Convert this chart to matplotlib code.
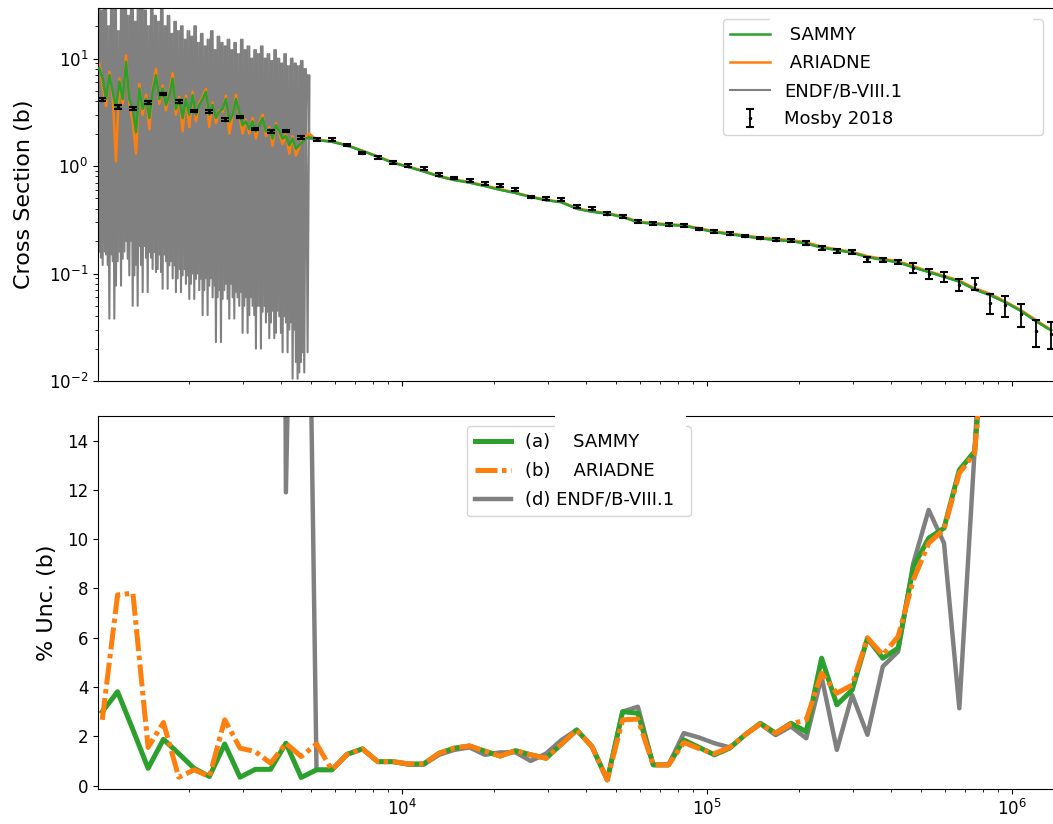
import numpy as np
import matplotlib
matplotlib.use("Agg")
import matplotlib.pyplot as plt
from matplotlib.patches import Rectangle

# ---------------- data ----------------
# energies (eV) of the resolved-resonance curve points
E_RES = [1015, 1041, 1068, 1095, 1123, 1151, 1181, 1211, 1242, 1273, 1306, 1339, 1373, 1408,
         1444, 1481, 1518, 1557, 1597, 1637, 1679, 1722, 1766, 1810, 1857, 1904, 1952, 2002,
         2053, 2105, 2159, 2214, 2270, 2328, 2388, 2448, 2511, 2575, 2640, 2708, 2777, 2847,
         2920, 2994, 3070, 3149, 3229, 3311, 3395, 3482, 3571, 3662, 3755, 3851, 3949, 4049,
         4152, 4258, 4367, 4478, 4592, 4709, 4829, 4952]
# energy bins (eV) of Mosby 2018 data / uncertainty comparison
E_BIN = [1038, 1165, 1308, 1467, 1647, 1849, 2076, 2331, 2616, 2936, 3296, 3698, 4152, 4660,
         5231, 5873, 6593, 7401, 8305, 9321, 10462, 11745, 13183, 14795, 16608, 18645, 20930,
         23495, 26365, 29597, 33224, 37297, 41869, 46980, 52740, 59206, 66464, 74612, 83720,
         93972, 105490, 118420, 132940, 149170, 167450, 187980, 211030, 236900, 265820, 298410,
         334970, 376040, 422150, 473700, 531780, 596970, 670150, 752310, 844140, 947620,
         1063700, 1194000, 1340400]

mosby_xs = [4.14, 3.52, 3.44, 3.91, 4.67, 3.96, 3.25, 3.20, 2.70, 2.86,
            2.21, 2.10, 2.12, 1.85, 1.77, 1.75, 1.57, 1.32, 1.20, 1.08,
            1.01, 0.944, 0.83, 0.773, 0.734, 0.684, 0.66, 0.60, 0.514, 0.496,
            0.485, 0.421, 0.40, 0.36, 0.34, 0.305, 0.294, 0.284, 0.28, 0.26,
            0.248, 0.234, 0.223, 0.214, 0.207, 0.203, 0.192, 0.173, 0.161, 0.158,
            0.135, 0.134, 0.128, 0.113, 0.099, 0.094, 0.0785, 0.080, 0.0533, 0.051,
            0.042, 0.029, 0.0275]
mosby_unc_pct = [3, 4, 3, 3, 3, 3, 3, 3, 3, 3,
                 3, 3, 3, 3, 3, 3, 3, 3, 3, 3,
                 3, 3, 3, 3, 3, 3, 4, 3, 3, 3,
                 3, 3, 3, 3, 3, 3, 3, 3, 3, 3,
                 3, 3, 3, 3, 3, 3, 4, 5, 4, 4,
                 6, 5, 5, 10, 11, 11, 13, 13, 22, 22,
                 25, 28, 28]

sammy_xs_res = [8.1, 6.5, 4.2, 7.0, 4.9, 3.4, 6.1, 4.2, 9.3, 4.2,
                3.4, 2.07, 5.25, 3.4, 4.2, 2.8, 4.9, 7.0, 4.2, 5.25,
                3.7, 4.55, 6.5, 3.4, 4.2, 2.8, 4.2, 3.0, 4.55, 3.0,
                3.7, 4.2, 4.9, 3.0, 3.7, 2.8, 3.2, 3.4, 4.2, 2.6,
                3.0, 4.2, 3.2, 2.4, 2.6, 2.2, 2.6, 2.1, 2.4, 2.8,
                2.1, 2.2, 1.8, 2.4, 2.1, 1.8, 1.9, 1.56, 1.8, 1.45,
                1.56, 1.67, 1.8, 1.86]
ariadne_xs_res = [9.0, 5.5, 3.6, 7.5, 4.4, 1.1, 6.5, 3.8, 10.7, 3.8,
                  2.6, 1.3, 5.8, 3.0, 4.6, 2.2, 5.2, 8.0, 3.8, 5.6,
                  3.3, 4.8, 7.3, 3.0, 4.4, 2.1, 4.5, 2.3, 4.9, 2.6,
                  3.9, 4.4, 5.2, 2.3, 3.9, 2.5, 3.3, 3.2, 4.5, 2.0,
                  2.9, 4.6, 3.0, 2.0, 2.7, 2.0, 2.8, 1.8, 2.5, 3.0,
                  1.9, 2.3, 1.55, 2.5, 2.0, 1.6, 2.0, 1.3, 1.9, 1.25,
                  1.5, 1.75, 1.9, 2.0]
endf_xs_hi = [35, 28, 40, 20, 35, 30, 18, 40, 35, 25,
              40, 22, 30, 35, 28, 20, 30, 25, 22, 30,
              20, 25, 17, 22, 18, 20, 15, 18, 16, 20,
              14, 17, 13, 15, 18, 12, 16, 14, 13, 15,
              12, 14, 11, 15, 12, 13, 10, 12, 11, 13,
              10, 11, 9.5, 12, 10, 9, 11, 8.5, 10, 9,
              8.5, 9.5, 8, 7]
endf_xs_lo = [0.14, 0.16, 0.12, 0.15, 0.038, 0.13, 0.077, 0.16, 0.137, 0.2,
              0.096, 0.05, 0.12, 0.18, 0.067, 0.14, 0.158, 0.11, 0.103, 0.15,
              0.072, 0.13, 0.119, 0.09, 0.067, 0.11, 0.096, 0.08, 0.058, 0.1,
              0.089, 0.07, 0.041, 0.09, 0.077, 0.06, 0.023, 0.07, 0.058, 0.08,
              0.038, 0.06, 0.067, 0.05, 0.028, 0.06, 0.041, 0.05, 0.020, 0.05,
              0.044, 0.035, 0.025, 0.045, 0.028, 0.04, 0.0185, 0.035, 0.030, 0.0105,
              0.015, 0.012, 0.0185, 1.8]

# smooth (unresolved) region, on E_BIN[14:]
sammy_xs_smooth = [1.74, 1.68, 1.55, 1.38, 1.22, 1.07, 0.98, 0.89, 0.80,
                   0.74, 0.70, 0.65, 0.60, 0.56, 0.515, 0.48, 0.46, 0.40, 0.375,
                   0.36, 0.335, 0.30, 0.29, 0.283, 0.278, 0.26, 0.243, 0.232, 0.222,
                   0.212, 0.205, 0.200, 0.19, 0.174, 0.165, 0.156, 0.142, 0.134, 0.127,
                   0.114, 0.103, 0.093, 0.084, 0.071, 0.063, 0.054, 0.045, 0.036, 0.0295]
ariadne_xs_smooth = [1.76, 1.70, 1.56, 1.39, 1.23, 1.08, 0.99, 0.90, 0.81,
                     0.75, 0.71, 0.66, 0.61, 0.565, 0.52, 0.485, 0.465, 0.405, 0.38,
                     0.365, 0.34, 0.305, 0.294, 0.287, 0.282, 0.264, 0.247, 0.236, 0.226,
                     0.216, 0.21, 0.205, 0.195, 0.178, 0.168, 0.159, 0.145, 0.137, 0.13,
                     0.117, 0.105, 0.095, 0.086, 0.073, 0.065, 0.055, 0.046, 0.037, 0.030]
endf_xs_smooth = [1.74, 1.68, 1.55, 1.38, 1.22, 1.07, 0.98, 0.89, 0.80,
                  0.74, 0.70, 0.65, 0.60, 0.56, 0.515, 0.48, 0.46, 0.40, 0.375,
                  0.36, 0.335, 0.30, 0.29, 0.283, 0.278, 0.26, 0.243, 0.232, 0.222,
                  0.212, 0.205, 0.200, 0.19, 0.174, 0.165, 0.156, 0.142, 0.134, 0.127,
                  0.114, 0.103, 0.093, 0.084, 0.071, 0.063, 0.054, 0.045, 0.036, 0.0295]

# percent uncertainties on E_BIN
sammy_unc = [3.0, 3.81, 2.27, 0.70, 1.88, 1.3, 0.70, 0.37, 1.69, 0.34,
             0.66, 0.66, 1.72, 0.33, 0.64, 0.64, 1.27, 1.49, 0.97, 0.97,
             0.88, 0.88, 1.31, 1.52, 1.61, 1.4, 1.2, 1.42, 1.25, 1.11,
             1.68, 2.26, 1.58, 0.23, 3.0, 2.94, 0.84, 0.84, 1.85, 1.55,
             1.25, 1.52, 2.06, 2.53, 2.13, 2.53, 2.19, 5.17, 3.28, 3.88,
             5.98, 5.17, 5.58, 8.89, 10.04, 10.45, 12.81, 13.56, 21, 26,
             30, 34, 38]
ariadne_unc = [2.67, 7.74, 7.81, 1.55, 2.56, 0.34, 0.64, 0.37, 2.67, 1.52,
               1.38, 0.91, 1.72, 1.18, 1.69, 0.64, 1.27, 1.49, 0.97, 0.97,
               0.88, 0.88, 1.31, 1.52, 1.61, 1.4, 1.2, 1.42, 1.25, 1.11,
               1.68, 2.26, 1.58, 0.23, 2.67, 2.7, 0.84, 0.84, 1.75, 1.5,
               1.3, 1.55, 2.06, 2.5, 2.13, 2.5, 2.67, 4.56, 3.75, 4.08,
               6.0, 5.3, 6.05, 8.35, 9.84, 10.4, 12.68, 13.49, 21, 26,
               30, 34, 38]
endf_unc = [420, 380, 350, 300, 280, 260, 240, 230, 210, 190,
            170, 160, 11.9, 44, 0.64, 0.64, 1.27, 1.49, 0.97, 0.97,
            0.85, 0.85, 1.25, 1.45, 1.55, 1.25, 1.35, 1.35, 1.0, 1.3,
            1.85, 2.26, 1.58, 0.23, 3.0, 3.2, 0.84, 0.84, 2.13, 1.95,
            1.72, 1.55, 2.06, 2.5, 2.05, 2.4, 1.92, 4.42, 1.45, 3.68,
            2.06, 4.83, 5.44, 9.03, 11.19, 9.84, 3.14, 13.62, 25, 30,
            35, 40, 45]

# ---------------- figure ----------------
W, H = 1053, 824
fig = plt.figure(figsize=(W / 100, H / 100), dpi=100)
ax1 = fig.add_axes([98 / W, (H - 381) / H, 957 / W, 373 / H])
ax2 = fig.add_axes([98 / W, (H - 789.3) / H, 957 / W, 373.3 / H], sharex=ax1)

green, orange, grey = "#2ca02c", "#ff7f0e", "#808080"

# top panel
E_res = np.array(E_RES, float)
E_bin = np.array(E_BIN, float)
hi = np.array(endf_xs_hi, float)
lo = np.array(endf_xs_lo, float)
x_smooth = E_bin[14:]
mids = np.sqrt(E_res[:-1] * E_res[1:])
# resonance zig-zag A: peaks at E_RES, troughs between neighbouring points
xa = np.concatenate([np.column_stack([E_res, np.append(mids, E_res[-1])]).ravel(), x_smooth])
ya = np.concatenate([np.column_stack([hi, lo]).ravel(), endf_xs_smooth])
# resonance zig-zag B: troughs at E_RES, peaks between neighbouring points
xb = np.column_stack([E_res[:-1], mids]).ravel()
yb = np.column_stack([lo[1:], hi[1:]]).ravel()
l_endf, = ax1.plot(xa, ya, color=grey, lw=1.5, zorder=1)
ax1.plot(xb, yb, color=grey, lw=1.5, zorder=1)
l_ari, = ax1.plot(np.concatenate([E_res, x_smooth]), ariadne_xs_res + ariadne_xs_smooth,
                  color=orange, lw=1.8, zorder=2)
l_sam, = ax1.plot(np.concatenate([E_res, x_smooth]), sammy_xs_res + sammy_xs_smooth,
                  color=green, lw=1.8, zorder=3)
mos = np.array(mosby_xs)
eb = ax1.errorbar(E_bin, mos, yerr=mos * np.array(mosby_unc_pct) / 100.0, fmt=".",
                  color="k", ms=3, capsize=3, elinewidth=1.3, capthick=1.5, zorder=4)
ax1.set_xscale("log")
ax1.set_yscale("log")
ax1.set_xlim(1005, 1.38e6)
ax1.set_ylim(0.01, 29.5)
ax1.set_ylabel("Cross Section (b)", fontsize=16, labelpad=11)
ax1.tick_params(labelbottom=False, labelsize=12)
ax1.legend([l_sam, l_ari, l_endf, eb], [" SAMMY", " ARIADNE", "ENDF/B-VIII.1", "Mosby 2018"],
           loc="upper left", bbox_to_anchor=(0.6531, 0.9705, 0.3344, 0.0), mode="expand",
           borderaxespad=0, fontsize=13, handlelength=2.2, labelspacing=0.55)

# bottom panel
b_endf, = ax2.plot(E_bin, endf_unc, color=grey, lw=3.2, zorder=1)
b_sam, = ax2.plot(E_bin, sammy_unc, color=green, lw=3.6, zorder=2)
b_ari, = ax2.plot(E_bin, ariadne_unc, color=orange, lw=3.6,
                  ls=(0, (4.4, 0.9, 0.9, 0.9)), zorder=3)
ax2.set_ylim(-0.15, 15)
ax2.set_yticks([0, 2, 4, 6, 8, 10, 12, 14])
ax2.set_ylabel("% Unc. (b)", fontsize=16, labelpad=7)
ax2.tick_params(labelsize=12)
ax2.legend([b_sam, b_ari, b_endf], ["(a)    SAMMY", "(b)    ARIADNE", "(d) ENDF/B-VIII.1"],
           loc="upper left", bbox_to_anchor=(0.3859, 0.9732, 0.2334, 0.0), mode="expand",
           borderaxespad=0, fontsize=13, labelspacing=0.6)

# white label patches present in the reference image
fig.add_artist(Rectangle((770 / W, (H - 23) / H), 263 / W, 9 / H, transform=fig.transFigure,
                         facecolor="white", edgecolor="none", zorder=20))
fig.add_artist(Rectangle((555 / W, (H - 430) / H), 131 / W, 18 / H, transform=fig.transFigure,
                         facecolor="white", edgecolor="none", zorder=20))

fig.savefig("out.png", dpi=100)
